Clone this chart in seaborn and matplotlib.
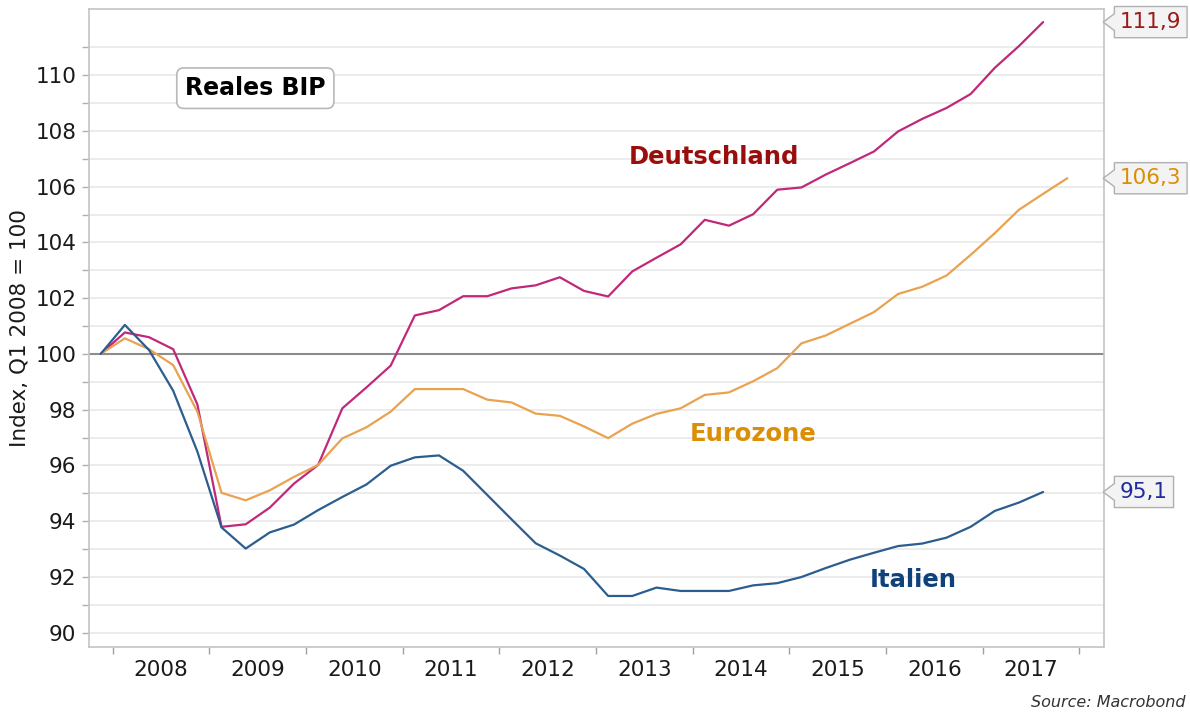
import numpy as np
import pandas as pd
import seaborn as sns
import matplotlib
matplotlib.use("Agg")
import matplotlib.pyplot as plt
from matplotlib.path import Path
from matplotlib.ticker import MultipleLocator, FixedLocator

# quarterly real GDP, index Q1 2008 = 100
quarters = [f"{y}Q{q}" for y in range(2008, 2019) for q in range(1, 5)][:41]

deutschland = [100.0, 100.77, 100.6, 100.17, 98.19, 93.8, 93.89, 94.49, 95.35, 96.02,
               98.05, 98.8, 99.58, 101.38, 101.57, 102.07, 102.07, 102.35, 102.46, 102.75,
               102.26, 102.06, 102.96, 103.45, 103.93, 104.81, 104.6, 105.01, 105.89, 105.97,
               106.43, 106.84, 107.26, 107.98, 108.43, 108.82, 109.32, 110.26, 111.04, 111.9]
eurozone = [100.0, 100.56, 100.17, 99.6, 97.93, 95.02, 94.75, 95.11, 95.59, 96.02,
            96.97, 97.37, 97.93, 98.74, 98.74, 98.74, 98.36, 98.26, 97.86, 97.78,
            97.4, 96.98, 97.5, 97.85, 98.05, 98.53, 98.62, 99.02, 99.49, 100.38,
            100.66, 101.08, 101.5, 102.15, 102.41, 102.81, 103.55, 104.33, 105.17, 105.74,
            106.3]
italien = [100.0, 101.04, 100.14, 98.68, 96.5, 93.78, 93.02, 93.6, 93.88, 94.4,
           94.87, 95.32, 95.99, 96.29, 96.36, 95.81, 94.94, 94.07, 93.21, 92.77,
           92.29, 91.32, 91.32, 91.62, 91.5, 91.5, 91.5, 91.7, 91.78, 92.0,
           92.32, 92.62, 92.87, 93.11, 93.2, 93.41, 93.8, 94.37, 94.67, 95.05]

years = list(range(2008, 2018))
end_labels = {"Deutschland": "111,9", "Eurozone": "106,3", "Italien": "95,1"}


def to_x(q):
    return int(q[:4]) + (int(q[-1]) - 1) / 4


rows = []
for name, vals in [("Deutschland", deutschland), ("Eurozone", eurozone), ("Italien", italien)]:
    for q, v in zip(quarters, vals):
        rows.append({"t": to_x(q), "value": v, "land": name})
df = pd.DataFrame(rows)

line_col = {"Deutschland": "#c0287a", "Eurozone": "#e9a24f", "Italien": "#2b5e8e"}
text_col = {"Deutschland": "#990d0d", "Eurozone": "#da8f06", "Italien": "#0f417b"}
end_col = {"Deutschland": "#9c1a1a", "Eurozone": "#d98e04", "Italien": "#1f2b9e"}


def tag_box(x0, y0, width, height, mutation_size):
    # box with a small pointer on its left side
    pad = 0.26 * mutation_size
    x0, y0 = x0 - pad, y0 - pad
    w, h = width + 2 * pad, height + 2 * pad
    ym = y0 + h / 2
    verts = [(x0, y0), (x0 + w, y0), (x0 + w, y0 + h), (x0, y0 + h),
             (x0, ym + 0.27 * h), (x0 - 0.36 * h, ym), (x0, ym - 0.27 * h), (x0, y0)]
    codes = [Path.MOVETO] + [Path.LINETO] * 6 + [Path.CLOSEPOLY]
    return Path(verts, codes)


sns.set_theme(style="white")
plt.rcParams["font.family"] = ["DejaVu Sans"]

fig = plt.figure(figsize=(11.9, 7.13), dpi=100)
ax = fig.add_axes([89 / 1190, 1 - 647 / 713, (1104 - 89) / 1190, (647 - 9) / 713])

ax.axhline(100, color="#8c8c8c", lw=1.5, zorder=1)
sns.lineplot(data=df, x="t", y="value", hue="land", palette=line_col,
             lw=1.6, legend=False, ax=ax, zorder=3)

ax.set_xlim(2007.879, 2018.38)
ax.set_ylim(89.49, 112.37)

# y axis
ax.yaxis.set_major_locator(FixedLocator(list(range(90, 111, 2))))
ax.yaxis.set_minor_locator(FixedLocator(list(range(91, 112, 2))))
ax.grid(which="both", axis="y", color="#ebebeb", lw=1.3, zorder=0)
ax.tick_params(axis="y", which="both", left=True, length=5, width=1, color="#b0b0b0",
               labelsize=15.5, labelcolor="#1a1a1a", pad=4)
ax.set_ylabel("Index, Q1 2008 = 100", fontsize=15.5, color="#1a1a1a", labelpad=4)

# x axis: year boundary ticks, labels centred in each year
ax.xaxis.set_major_locator(FixedLocator([y + 0.125 for y in years] + [2018.125]))
ax.xaxis.set_major_formatter(plt.NullFormatter())
ax.set_xticks([y + 0.625 for y in years], minor=True)
ax.set_xticklabels([str(y) for y in years], minor=True)
ax.tick_params(axis="x", which="major", bottom=True, length=5, width=1, color="#a0a0a0", pad=2)
ax.tick_params(axis="x", which="minor", bottom=False, length=0, labelsize=15.5,
               labelcolor="#1a1a1a", pad=9)
ax.set_xlabel("")

for s in ax.spines.values():
    s.set_color("#c4c4c4")
    s.set_linewidth(1.2)

# series labels
ax.text(2014.34, 107.06, "Deutschland", color=text_col["Deutschland"], fontsize=17.5,
        fontweight="bold", ha="center", va="center")
ax.text(2014.745, 97.13, "Eurozone", color=text_col["Eurozone"], fontsize=17.5,
        fontweight="bold", ha="center", va="center")
ax.text(2016.41, 91.9, "Italien", color=text_col["Italien"], fontsize=17.5,
        fontweight="bold", ha="center", va="center")

ax.text(2009.6, 109.53, "Reales BIP", color="black", fontsize=17, fontweight="bold",
        ha="center", va="center",
        bbox=dict(boxstyle="round,pad=0.35,rounding_size=0.3", fc="white", ec="#b8b8b8", lw=1.2))

# end-value tags on the right edge
for name, vals in [("Deutschland", deutschland), ("Eurozone", eurozone), ("Italien", italien)]:
    ax.annotate(end_labels[name], xy=(1, vals[-1]), xycoords=ax.get_yaxis_transform(),
                xytext=(11.5, 0), textcoords="offset points", ha="left", va="center",
                fontsize=15.5, color=end_col[name], annotation_clip=False,
                bbox=dict(boxstyle=tag_box, fc="#f3f3f3", ec="#b0b0b0", lw=1))

fig.text(0.996, 0.004, "Source: Macrobond", ha="right", va="bottom", fontsize=11.5,
         style="italic", color="#333333")

fig.savefig("out.png", dpi=100)
